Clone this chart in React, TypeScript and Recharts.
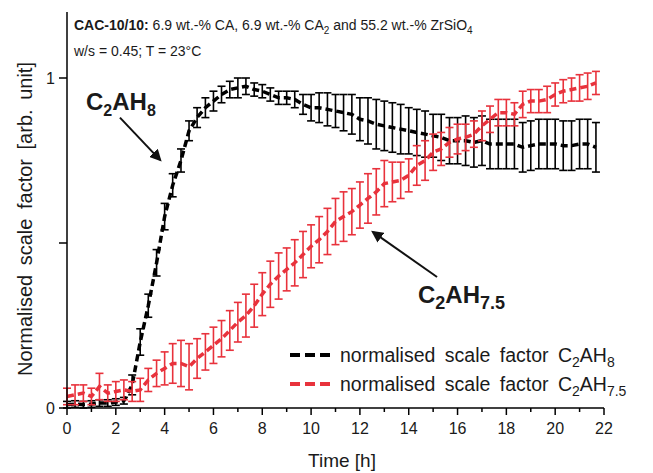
import { LineChart, Line, XAxis, YAxis, ErrorBar, ReferenceLine } from 'recharts';

const time = [
  0, 0.33, 0.67, 1, 1.33, 1.67, 2, 2.33, 2.67, 3, 3.33, 3.67, 4, 4.33, 4.67, 5, 5.33, 5.67,
  6, 6.33, 6.67, 7, 7.33, 7.67, 8, 8.33, 8.67, 9, 9.33, 9.67, 10, 10.33, 10.67, 11, 11.33, 11.67,
  12, 12.33, 12.67, 13, 13.33, 13.67, 14, 14.33, 14.67, 15, 15.33, 15.67, 16, 16.33, 16.67, 17,
  17.33, 17.67, 18, 18.33, 18.67, 19, 19.33, 19.67, 20, 20.33, 20.67, 21, 21.33, 21.67,
];

const c2ah8 = [
  0.01, 0.012, 0.01, 0.012, 0.015, 0.015, 0.018, 0.022, 0.07, 0.2, 0.31, 0.44, 0.58, 0.675, 0.75, 0.84, 0.88, 0.91,
  0.93, 0.95, 0.965, 0.97, 0.975, 0.965, 0.96, 0.95, 0.94, 0.94, 0.935, 0.92, 0.91, 0.91, 0.905, 0.9, 0.895, 0.89,
  0.875, 0.87, 0.86, 0.855, 0.85, 0.845, 0.84, 0.835, 0.83, 0.825, 0.82, 0.81, 0.81, 0.81, 0.805, 0.81,
  0.8, 0.8, 0.8, 0.8, 0.79, 0.795, 0.8, 0.8, 0.8, 0.795, 0.795, 0.8, 0.8, 0.79,
];
const c2ah8Err = [
  0.01, 0.01, 0.01, 0.01, 0.01, 0.01, 0.01, 0.01, 0.03, 0.04, 0.035, 0.04, 0.04, 0.035, 0.035, 0.03, 0.03, 0.03,
  0.03, 0.025, 0.025, 0.03, 0.025, 0.02, 0.02, 0.02, 0.02, 0.02, 0.025, 0.03, 0.04, 0.045, 0.05, 0.05, 0.055, 0.06,
  0.065, 0.07, 0.075, 0.075, 0.075, 0.075, 0.07, 0.07, 0.07, 0.065, 0.07, 0.07, 0.07, 0.075, 0.075, 0.075,
  0.075, 0.075, 0.075, 0.075, 0.075, 0.075, 0.075, 0.075, 0.075, 0.075, 0.075, 0.075, 0.075, 0.075,
];

const c2ah75 = [
  0.035, 0.04, 0.045, 0.035, 0.065, 0.045, 0.05, 0.055, 0.05, 0.055, 0.085, 0.105, 0.12, 0.135, 0.135, 0.125, 0.15, 0.17,
  0.19, 0.21, 0.235, 0.26, 0.28, 0.31, 0.345, 0.375, 0.4, 0.42, 0.44, 0.465, 0.49, 0.51, 0.535, 0.565, 0.58, 0.595,
  0.615, 0.635, 0.655, 0.68, 0.685, 0.69, 0.705, 0.735, 0.75, 0.775, 0.785, 0.805, 0.815, 0.82, 0.83, 0.855,
  0.875, 0.895, 0.895, 0.89, 0.92, 0.93, 0.93, 0.935, 0.95, 0.96, 0.965, 0.97, 0.975, 0.985,
];
const c2ah75Err = [
  0.025, 0.03, 0.025, 0.025, 0.04, 0.025, 0.03, 0.03, 0.03, 0.035, 0.035, 0.04, 0.05, 0.06, 0.07, 0.07, 0.06, 0.055,
  0.055, 0.055, 0.06, 0.06, 0.065, 0.065, 0.065, 0.07, 0.07, 0.065, 0.07, 0.07, 0.065, 0.07, 0.07, 0.07, 0.075, 0.07,
  0.07, 0.075, 0.07, 0.07, 0.06, 0.055, 0.05, 0.06, 0.06, 0.055, 0.05, 0.045, 0.045, 0.04, 0.04, 0.045,
  0.04, 0.04, 0.04, 0.035, 0.04, 0.035, 0.035, 0.04, 0.035, 0.035, 0.035, 0.04, 0.04, 0.035,
];

const xTicks = [0, 1, 2, 3, 4, 5, 6, 7, 8, 9, 10, 11, 12, 13, 14, 15, 16, 17, 18, 19, 20, 21, 22];
const yTicks = [0, 0.5, 1];

const RED = '#e8323c';
const INK = '#1a1a1a';
const FONT = '"Liberation Sans", Arial, Helvetica, sans-serif';

const data = time.map((t, i) => ({
  t,
  c2ah8: c2ah8[i],
  c2ah8Err: c2ah8Err[i],
  c2ah75: c2ah75[i],
  c2ah75Err: c2ah75Err[i],
}));

function XTick(props: any) {
  const { x, y, payload } = props;
  const major = payload.value % 2 === 0;
  return (
    <g>
      <line x1={x} x2={x} y1={y} y2={y + (major ? 7 : 4)} stroke="#000" strokeWidth={1.5} />
      {major && (
        <text x={x} y={y + 20} textAnchor="middle" dominantBaseline="central" fontSize={16} fill={INK} fontFamily={FONT}>
          {payload.value}
        </text>
      )}
    </g>
  );
}

const YLabel = () => (
  <text x={25} y={219} transform="rotate(-90 25 219)" textAnchor="middle" dominantBaseline="central" fontSize={20} fill={INK} fontFamily={FONT} wordSpacing={4}>
    Normalised scale factor [arb. unit]
  </text>
);

const XLabel = () => (
  <text x={342} y={460} textAnchor="middle" dominantBaseline="central" fontSize={19} fill={INK} fontFamily={FONT}>
    Time [h]
  </text>
);

const legendRows = [
  { color: '#000', sub: '8' },
  { color: RED, sub: '7.5' },
];

export default function App() {
  return (
    <div style={{ position: 'absolute', left: 0, top: 0, width: 653, height: 473, background: '#fff', fontFamily: FONT, color: INK }}>
      <LineChart width={653} height={473} data={data} margin={{ top: 12, right: 49, left: 0, bottom: 0 }}>
        <defs>
          <marker id="arrowHead" viewBox="0 0 10 10" refX="8" refY="5" markerWidth="6" markerHeight="6" orient="auto">
            <path d="M0,0 L10,5 L0,10 z" fill="#111" />
          </marker>
        </defs>
        <XAxis
          dataKey="t"
          type="number"
          domain={[0, 22]}
          ticks={xTicks}
          interval={0}
          tick={<XTick />}
          tickLine={false}
          tickSize={0}
          tickMargin={0}
          height={65}
          axisLine={{ stroke: '#000', strokeWidth: 1.5 }}
          label={<XLabel />}
        />
        <YAxis
          type="number"
          domain={[0, 1.2]}
          ticks={yTicks}
          width={67}
          tickSize={8}
          tickMargin={4}
          tickFormatter={(v: number) => (v === 0.5 ? '' : String(v))}
          tick={{ fontSize: 16, fill: INK, fontFamily: FONT }}
          tickLine={{ stroke: '#000', strokeWidth: 1.5 }}
          axisLine={{ stroke: '#000', strokeWidth: 1.5 }}
          label={<YLabel />}
        />
        <Line type="linear" dataKey="c2ah8" stroke="#000" strokeWidth={3.5} strokeDasharray="7 4" dot={false} isAnimationActive={false}>
          <ErrorBar dataKey="c2ah8Err" direction="y" width={4} stroke="#000" strokeWidth={1.6} />
        </Line>
        <Line type="linear" dataKey="c2ah75" stroke={RED} strokeWidth={3.5} strokeDasharray="7 4" dot={false} isAnimationActive={false}>
          <ErrorBar dataKey="c2ah75Err" direction="y" width={4} stroke={RED} strokeWidth={1.6} />
        </Line>
        <ReferenceLine
          segment={[{ x: 2.17, y: 0.88 }, { x: 3.81, y: 0.752 }]}
          stroke="#111"
          strokeWidth={2}
          markerEnd="url(#arrowHead)"
          ifOverflow="visible"
        />
        <ReferenceLine
          segment={[{ x: 15.16, y: 0.397 }, { x: 12.54, y: 0.533 }]}
          stroke="#111"
          strokeWidth={2}
          markerEnd="url(#arrowHead)"
          ifOverflow="visible"
        />
      </LineChart>

      <div style={{ position: 'absolute', left: 74, top: 15, fontSize: 14, height: 20, lineHeight: '20px', whiteSpace: 'nowrap' }}>
        <b>CAC-10/10:</b> 6.9 wt.-% CA, 6.9 wt.-% CA<sub style={{ fontSize: 10, lineHeight: 0 }}>2</sub> and 55.2 wt.-% ZrSiO
        <sub style={{ fontSize: 10, lineHeight: 0 }}>4</sub>
      </div>
      <div style={{ position: 'absolute', left: 74, top: 41, fontSize: 14, height: 20, lineHeight: '20px', whiteSpace: 'nowrap' }}>
        w/s = 0.45; T = 23°C
      </div>

      <div style={{ position: 'absolute', left: 86, top: 88, fontSize: 24, fontWeight: 'bold', lineHeight: '28px' }}>
        C<sub style={{ fontSize: 16, lineHeight: 0 }}>2</sub>AH<sub style={{ fontSize: 16, lineHeight: 0 }}>8</sub>
      </div>
      <div style={{ position: 'absolute', left: 418, top: 281, fontSize: 24, fontWeight: 'bold', lineHeight: '28px' }}>
        C<sub style={{ fontSize: 18, lineHeight: 0 }}>2</sub>AH<sub style={{ fontSize: 18, lineHeight: 0 }}>7.5</sub>
      </div>

      <div style={{ position: 'absolute', left: 288, top: 340, fontSize: 19.5, wordSpacing: 4 }}>
        {legendRows.map((r) => (
          <div key={r.sub} style={{ display: 'flex', alignItems: 'center', height: 29, whiteSpace: 'nowrap' }}>
            <svg width={48} height={10} style={{ marginRight: 4 }}>
              <line x1={2} x2={44} y1={5} y2={5} stroke={r.color} strokeWidth={4} strokeDasharray="10 5" />
            </svg>
            <span style={{ lineHeight: '22px' }}>
              normalised scale factor C<sub style={{ fontSize: 14, lineHeight: 0 }}>2</sub>AH
              <sub style={{ fontSize: 14, lineHeight: 0 }}>{r.sub}</sub>
            </span>
          </div>
        ))}
      </div>
    </div>
  );
}
